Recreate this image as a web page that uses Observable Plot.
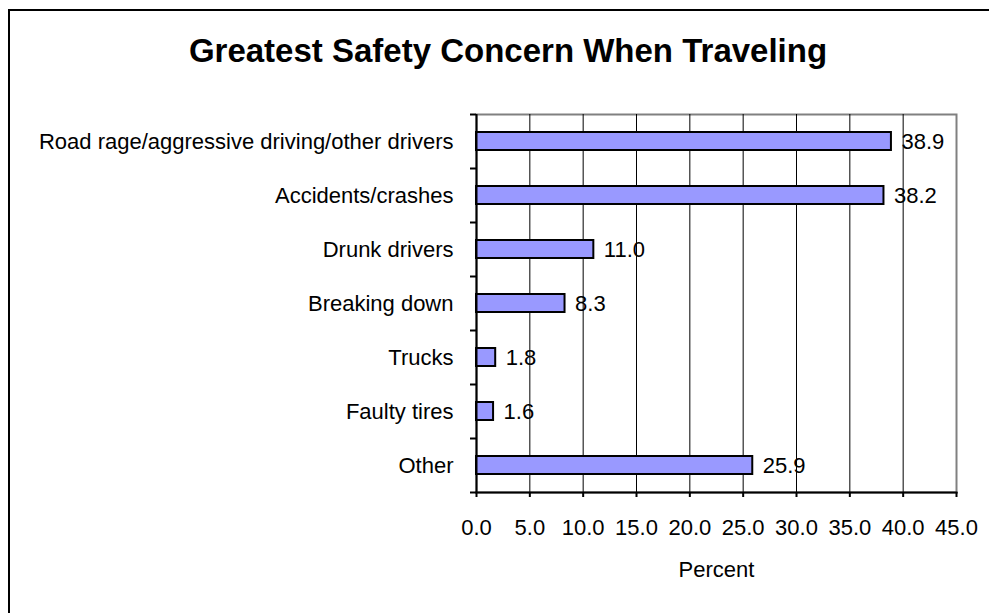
<!DOCTYPE html>
<html>
<head>
<meta charset="utf-8">
<script src="https://cdn.jsdelivr.net/npm/d3@7"></script>
<script src="https://cdn.jsdelivr.net/npm/@observablehq/plot@0.6"></script>
<style>
  html, body { margin: 0; padding: 0; background: #fff; overflow: hidden; }
  body { width: 989px; height: 613px; position: relative; font-family: Arial, "Liberation Sans", sans-serif; }
  #border { position: absolute; left: 8px; top: 9px; width: 1100px; height: 800px; border: 2px solid #000; box-sizing: border-box; }
  #title { position: absolute; left: 0; top: 34px; width: 1016px; text-align: center; font-weight: bold; font-size: 33px; line-height: 33px; color: #000; }
  #chart { position: absolute; left: 0; top: 0; }
</style>
</head>
<body>
<div id="border"></div>
<div id="title">Greatest Safety Concern When Traveling</div>
<div id="chart"></div>
<script>
// Survey answers, top to bottom
const categories = [
  "Road rage/aggressive driving/other drivers",
  "Accidents/crashes",
  "Drunk drivers",
  "Breaking down",
  "Trucks",
  "Faulty tires",
  "Other"
];
const percents = [38.9, 38.2, 11.0, 8.3, 1.8, 1.6, 25.9];
const xTicks = [0, 5, 10, 15, 20, 25, 30, 35, 40, 45];
const gridValues = [5, 10, 15, 20, 25, 30, 35, 40];

const data = categories.map((c, i) => ({category: c, value: percents[i]}));
const fmt = d3.format(".1f");
const step = 54; // band step in pixels (378px / 7 categories)

const chart = Plot.plot({
  width: 989,
  height: 613,
  marginTop: 114,
  marginBottom: 121,
  marginLeft: 476,
  marginRight: 33,
  style: {fontFamily: "Arial, 'Liberation Sans', sans-serif", fontSize: "22px", color: "#000", background: "transparent"},
  x: {domain: [0, 45]},
  y: {domain: categories, paddingInner: 0.66, paddingOuter: 0.33},
  marks: [
    // plot area outline
    Plot.frame({stroke: "#808080", strokeWidth: 2}),
    // vertical gridlines
    Plot.ruleX(gridValues, {stroke: "#000", strokeWidth: 1}),
    // bars
    Plot.barX(data, {x: "value", y: "category", fill: "#9999ff", stroke: "#000", strokeWidth: 2}),
    // value labels
    Plot.text(data, {x: "value", y: "category", text: d => fmt(d.value), textAnchor: "start", dx: 10, fontSize: 22, fill: "#000"}),
    // category axis: boundary tick marks
    Plot.ruleY(categories, {y: d => d, x1: -0.56, x2: 0, dy: -step / 2, stroke: "#000", strokeWidth: 2}),
    Plot.ruleY(categories.slice(-1), {y: d => d, x1: -0.56, x2: 0, dy: step / 2, stroke: "#000", strokeWidth: 2}),
    Plot.axisY({tickSize: 0, tickPadding: 23, fontSize: 22, label: null}),
    // value axis
    Plot.axisX(xTicks, {tickSize: 5, tickPadding: 22, strokeWidth: 2, tickFormat: fmt, fontSize: 22, label: null}),
    Plot.ruleX([0], {stroke: "#000", strokeWidth: 2}),
    Plot.frame({anchor: "bottom", stroke: "#000", strokeWidth: 2}),
    Plot.text(["Percent"], {frameAnchor: "bottom", dy: 84, fontSize: 22, fill: "#000"})
  ]
});
document.getElementById("chart").appendChild(chart);
</script>
</body>
</html>
